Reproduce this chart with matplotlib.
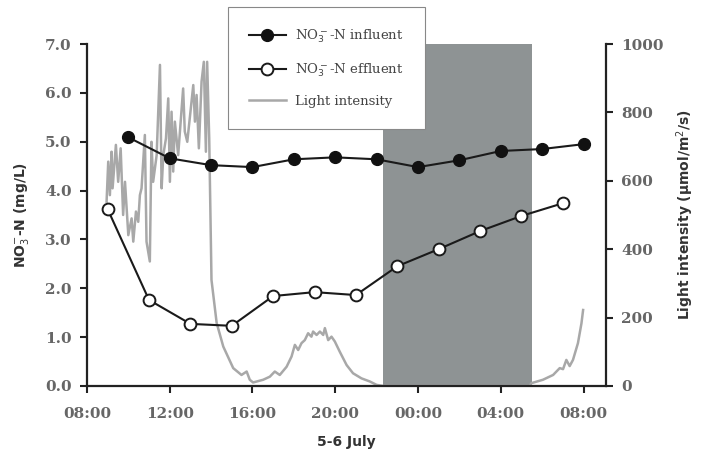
import matplotlib
matplotlib.use('Agg')
import matplotlib.pyplot as plt

# hours counted from 5 July 00:00
influent_h = [10, 12, 14, 16, 18, 20, 22, 24, 26, 28, 30, 32]
influent = [5.09, 4.66, 4.52, 4.48, 4.64, 4.68, 4.64, 4.48, 4.62, 4.81, 4.85, 4.95]

effluent_h = [9, 11, 13, 15, 17, 19, 21, 23, 25, 27, 29, 31]
effluent = [3.62, 1.76, 1.27, 1.23, 1.84, 1.92, 1.86, 2.45, 2.80, 3.17, 3.48, 3.74]

light_h = [8.95, 9.03, 9.11, 9.19, 9.24, 9.40, 9.51, 9.63, 9.75, 9.84,
           10.00, 10.16, 10.24, 10.37, 10.48, 10.56, 10.64, 10.80, 10.88, 11.04,
           11.12, 11.20, 11.37, 11.53, 11.61, 11.69, 11.82, 11.93, 12.01, 12.09,
           12.17, 12.25, 12.41, 12.65, 12.73, 12.85, 13.14, 13.22, 13.30, 13.41,
           13.54, 13.65, 13.75, 13.81, 13.91, 14.02, 14.27, 14.59, 15.07, 15.47,
           15.72, 15.87, 16.03, 16.52, 16.84, 17.08, 17.32, 17.65, 17.89, 18.05,
           18.21, 18.37, 18.53, 18.69, 18.85, 18.93, 19.10, 19.26, 19.42, 19.50,
           19.66, 19.82, 19.98, 20.22, 20.55, 20.86, 21.27, 21.67, 22.00, 22.30,
           29.40, 29.48, 30.04, 30.53, 30.85, 31.01, 31.17, 31.33, 31.49, 31.73,
           31.90, 31.98]
light = [539, 656, 558, 685, 578, 705, 597, 695, 500, 597,
         441, 490, 422, 510, 480, 558, 578, 734, 422, 364,
         714, 597, 675, 939, 578, 675, 724, 841, 597, 802,
         627, 773, 675, 870, 744, 714, 880, 773, 851, 695,
         890, 948, 685, 948, 724, 310, 184, 115, 52, 32,
         42, 18, 10, 18, 27, 42, 32, 56, 86, 120,
         105, 125, 134, 154, 144, 159, 149, 159, 149, 169,
         134, 144, 130, 100, 61, 37, 22, 13, 3, 0,
         0, 8, 18, 32, 52, 49, 76, 58, 76, 125,
         183, 222]

dark_start, dark_end = 22.31, 29.52
xticks = [8, 12, 16, 20, 24, 28, 32]
xlabels = ['08:00', '12:00', '16:00', '20:00', '00:00', '04:00', '08:00']

tickfont = dict(family='DejaVu Serif', weight='bold', size=11, color='#666666')
labfont = dict(family='DejaVu Sans', weight='bold', size=10, color='#333333')

fig = plt.figure(figsize=(7.01, 4.54), dpi=100)
ax = fig.add_axes([0.124, 0.150, 0.740, 0.753])
ax2 = ax.twinx()

ax2.axvspan(dark_start, dark_end, color='#8e9394', lw=0, zorder=0)
l3, = ax2.plot(light_h, light, color='#a8a8a8', lw=1.8, label='Light intensity', zorder=2)

l1, = ax.plot(influent_h, influent, '-o', color='#1a1a1a', lw=1.5, ms=8.5,
              mfc='#111111', mec='#111111', label='NO$_3^-$-N influent')
l2, = ax.plot(effluent_h, effluent, '-o', color='#1a1a1a', lw=1.5, ms=8.5,
              mfc='white', mec='#1a1a1a', mew=1.4, label='NO$_3^-$-N effluent')
ax.set_zorder(ax2.get_zorder() + 1)
ax.patch.set_visible(False)

ax.set_xlim(8, 33.07)
ax.set_ylim(0, 7)
ax2.set_ylim(0, 1000)
ax.set_xticks(xticks)
ax.set_xticklabels(xlabels)
ax.set_yticks([i * 1.0 for i in range(8)])
ax.set_yticklabels(['%.1f' % v for v in range(8)])
ax2.set_yticks([0, 200, 400, 600, 800, 1000])

for a in (ax, ax2):
    a.spines['top'].set_visible(False)
    for s in a.spines.values():
        s.set_linewidth(1.6)
        s.set_color('#222222')
    a.tick_params(direction='out', length=5, width=1.5, color='#222222', pad=6)
    for t in a.get_xticklabels() + a.get_yticklabels():
        t.set_fontfamily(tickfont['family'])
        t.set_fontweight(tickfont['weight'])
        t.set_fontsize(tickfont['size'])
        t.set_color(tickfont['color'])
ax.tick_params(axis='x', pad=10)
ax2.spines['left'].set_visible(False)
ax2.spines['bottom'].set_visible(False)
ax.spines['right'].set_visible(False)

ax.set_ylabel('NO$_3^{-}$-N (mg/L)', labelpad=10, **labfont)
ax2.set_ylabel('Light intensity (\u03bcmol/m$^2$/s)', labelpad=8, **labfont)
ax.set_xlabel('5-6 July', labelpad=10, **labfont)

leg = fig.legend(handles=[l1, l2, l3], loc='upper left',
                 bbox_to_anchor=(0.325, 0.985), bbox_transform=fig.transFigure,
                 borderaxespad=0, fancybox=False, framealpha=1, edgecolor='#888888',
                 borderpad=1.6, labelspacing=1.2, handlelength=2.8,
                 handletextpad=0.7, prop=dict(family='DejaVu Serif', size=9.5))
leg.get_frame().set_linewidth(0.8)
for t in leg.get_texts():
    t.set_color('#444444')

fig.savefig('out.png', dpi=100)
